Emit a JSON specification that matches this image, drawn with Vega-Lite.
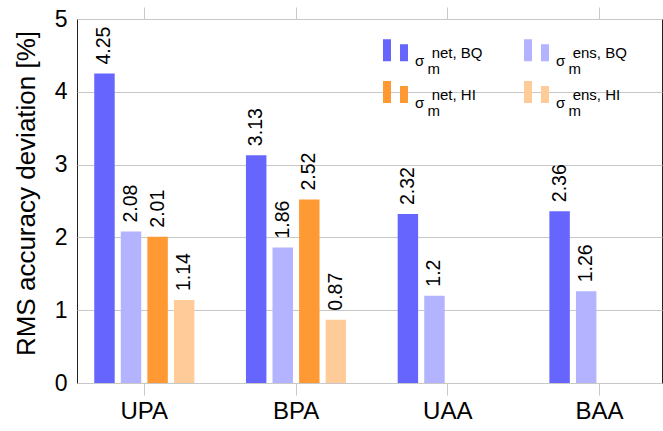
{
  "$schema": "https://vega.github.io/schema/vega-lite/v6.json",
  "width": 585,
  "height": 364,
  "autosize": {"type": "none"},
  "padding": {"left": 77, "top": 19, "right": 1, "bottom": 48},
  "config": {
    "font": "Liberation Sans",
    "view": {"stroke": "#222", "strokeWidth": 1},
    "axis": {
      "labelColor": "#000",
      "titleColor": "#000",
      "labelFont": "Liberation Sans",
      "titleFont": "Liberation Sans",
      "titleFontWeight": "normal"
    }
  },
  "data": {
    "values": [
      {"method": "UPA", "series": "net, BQ", "value": 4.25},
      {"method": "UPA", "series": "ens, BQ", "value": 2.08},
      {"method": "UPA", "series": "net, HI", "value": 2.01},
      {"method": "UPA", "series": "ens, HI", "value": 1.14},
      {"method": "BPA", "series": "net, BQ", "value": 3.13},
      {"method": "BPA", "series": "ens, BQ", "value": 1.86},
      {"method": "BPA", "series": "net, HI", "value": 2.52},
      {"method": "BPA", "series": "ens, HI", "value": 0.87},
      {"method": "UAA", "series": "net, BQ", "value": 2.32},
      {"method": "UAA", "series": "ens, BQ", "value": 1.2},
      {"method": "BAA", "series": "net, BQ", "value": 2.36},
      {"method": "BAA", "series": "ens, BQ", "value": 1.26}
    ]
  },
  "encoding": {
    "xOffset": {
      "field": "series",
      "type": "nominal",
      "sort": ["net, BQ", "ens, BQ", "net, HI", "ens, HI"],
      "scale": {"domain": ["net, BQ", "ens, BQ", "net, HI", "ens, HI"], "paddingInner": 0.23, "paddingOuter": 0}
    },
    "y": {
      "field": "value",
      "type": "quantitative",
      "scale": {"domain": [0, 5], "nice": false},
      "axis": {
        "title": "RMS accuracy deviation [%]",
        "titleFontSize": 26,
        "titlePadding": 15,
        "titleY": 174,
        "values": [0, 1, 2, 3, 4, 5],
        "labelFontSize": 23,
        "labelPadding": 10,
        "ticks": false,
        "domain": false,
        "grid": true,
        "gridColor": "#c8c8c8",
        "gridWidth": 1
      }
    }
  },
  "layer": [
    {
      "mark": {"type": "bar"},
      "encoding": {
        "x": {
          "field": "method",
          "type": "nominal",
          "sort": ["UPA", "BPA", "UAA", "BAA"],
          "scale": {"paddingInner": 0.34, "paddingOuter": 0.098, "align": 0.58},
          "axis": {
            "orient": "bottom",
            "title": null,
            "domain": false,
            "grid": false,
            "labelAngle": 0,
            "labelFontSize": 24,
            "labelPadding": 4,
            "ticks": true,
            "tickSize": 12,
            "tickColor": "#c8c8c8",
            "tickWidth": 1
          }
        },
        "color": {
          "field": "series",
          "type": "nominal",
          "sort": ["net, BQ", "ens, BQ", "net, HI", "ens, HI"],
          "scale": {
            "domain": ["net, BQ", "ens, BQ", "net, HI", "ens, HI"],
            "range": ["#6666ff", "#b3b3ff", "#ff9933", "#ffcc99"]
          },
          "legend": {
            "orient": "none",
            "direction": "horizontal",
            "legendX": 306,
            "legendY": 18.5,
            "columns": 2,
            "columnPadding": 41,
            "rowPadding": 2,
            "title": null,
            "padding": 0,
            "symbolType": "M-1,-0.88H-0.36V0.88H-1Z M0.36,-0.48H1V0.88H0.36Z",
            "symbolSize": 625,
            "symbolStrokeWidth": 0,
            "symbolOpacity": 1,
            "labelFontSize": 15,
            "labelOffset": 7,
            "labelBaseline": "middle",
            "labelExpr": "['\u200b\u00a0\u00a0\u00a0\u00a0' + datum.label, 'σ', '\u200b\u00a0\u00a0\u00a0m']",
            "encode": {"labels": {"update": {"lineHeight": {"value": 8}, "dy": {"value": 3}}}}
          }
        }
      }
    },
    {
      "mark": {
        "type": "text",
        "angle": 270,
        "align": "left",
        "baseline": "middle",
        "dx": 9,
        "fontSize": 19.5,
        "color": "#000"
      },
      "encoding": {
        "x": {
          "field": "method",
          "type": "nominal",
          "sort": ["UPA", "BPA", "UAA", "BAA"],
          "axis": {
            "orient": "top",
            "title": null,
            "labels": false,
            "domain": false,
            "grid": false,
            "ticks": true,
            "tickSize": 12,
            "tickColor": "#c8c8c8",
            "tickWidth": 1
          }
        },
        "text": {"field": "value", "type": "nominal"}
      }
    }
  ],
  "resolve": {"axis": {"x": "independent"}}
}
